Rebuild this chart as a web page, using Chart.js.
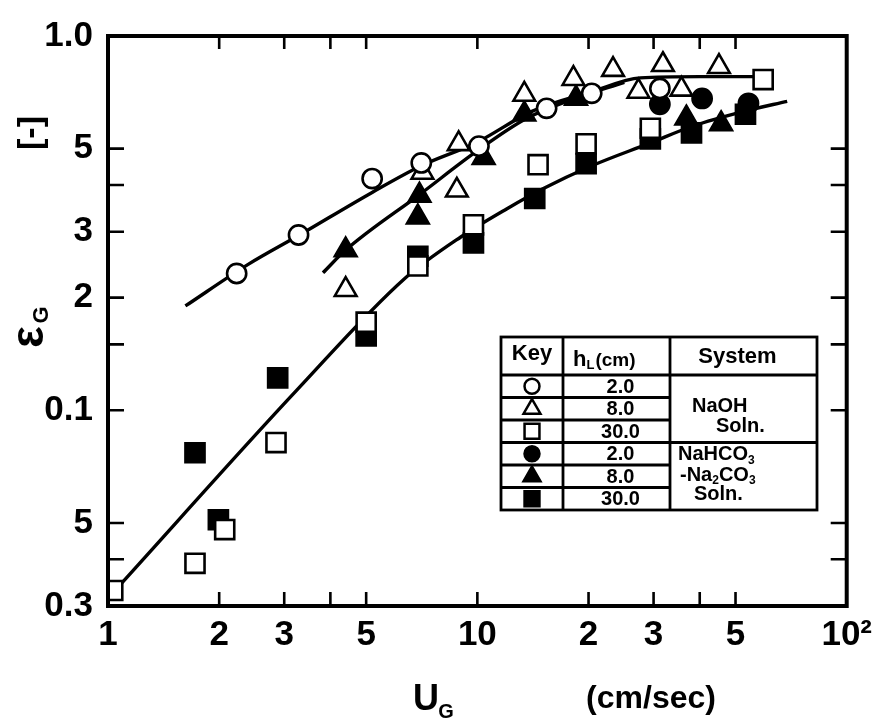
<!DOCTYPE html>
<html><head><meta charset="utf-8">
<script src="https://cdn.jsdelivr.net/npm/chart.js@4.4.1/dist/chart.umd.min.js"></script>
<style>html,body{margin:0;padding:0;background:#fff;} canvas{display:block;}</style>
</head><body>
<canvas id="c" width="880" height="725"></canvas>
<script>
// ---- tick values / labels ----
const xTickValues = [1, 2, 3, 4, 5, 10, 20, 30, 40, 50, 100];
const xTickLabels = ['1', '2', '3', '', '5', '10', '2', '3', '', '5', '10²'];
const yTickValues = [0.03, 0.04, 0.05, 0.1, 0.15, 0.2, 0.3, 0.4, 0.5, 1.0];
const yTickLabels = ['0.3', '', '5', '0.1', '', '2', '3', '', '5', '1.0'];

// ---- data: NaOH soln. ----
const naoh2X = [2.23, 3.28, 5.19, 7.05, 10.1, 15.4, 20.4, 31.2];
const naoh2Y = [0.232, 0.294, 0.416, 0.458, 0.508, 0.641, 0.703, 0.724];
const naoh8X = [4.4, 7.1, 8.8, 8.9, 13.4, 18.2, 23.3, 27.3, 31.8, 35.7, 45.1];
const naoh8Y = [0.21, 0.432, 0.387, 0.515, 0.698, 0.769, 0.813, 0.711, 0.838, 0.72, 0.828];
const naoh30X = [1.03, 1.72, 2.07, 2.85, 5.0, 6.9, 9.76, 14.6, 19.7, 29.4, 59.4];
const naoh30Y = [0.033, 0.039, 0.048, 0.082, 0.172, 0.243, 0.313, 0.453, 0.515, 0.567, 0.765];
// ---- data: NaHCO3 - Na2CO3 soln. ----
const carb2X = [31.2, 40.6, 54.2];
const carb2Y = [0.657, 0.681, 0.661];
const carb8X = [4.4, 6.9, 6.97, 10.4, 13.4, 18.5, 36.8, 45.7];
const carb8Y = [0.268, 0.328, 0.375, 0.473, 0.618, 0.681, 0.603, 0.582];
const carb30X = [1.72, 1.99, 2.88, 5.0, 6.9, 9.76, 14.3, 19.7, 29.4, 38, 53.2];
const carb30Y = [0.077, 0.051, 0.122, 0.158, 0.258, 0.28, 0.368, 0.456, 0.531, 0.551, 0.618];
// ---- fitted curves ----
const curve2X = [1.62, 2.39, 3.28, 5.19, 7.05, 9.9, 14.1, 20.4, 27.6, 40, 57];
const curve2Y = [0.19, 0.245, 0.293, 0.382, 0.45, 0.518, 0.63, 0.71, 0.773, 0.779, 0.779];
const curve8X = [3.82, 4.4, 7.05, 9.9, 13.5, 18.3, 25];
const curve8Y = [0.233, 0.268, 0.38, 0.49, 0.6, 0.68, 0.752];
const curve30X = [1.056, 3.24, 6.36, 9.0, 12, 15, 20.4, 29.4, 38.2, 53, 69];
const curve30Y = [0.0334, 0.113, 0.225, 0.29, 0.345, 0.39, 0.45, 0.518, 0.574, 0.63, 0.669];

// ---- legend table text ----
const keyHeights = ['2.0', '8.0', '30.0', '2.0', '8.0', '30.0'];

const FONT = "'Liberation Sans', Arial, sans-serif";
const pts = (xs, ys) => xs.map((x, i) => ({x: x, y: ys[i]}));

const markerStyles = [
  {style: 'circle', r: 9.6, fill: '#fff'},
  {style: 'triangle', r: 12.5, fill: '#fff'},
  {style: 'rect', r: 13.5, fill: '#fff'},
  {style: 'circle', r: 9.6, fill: '#000'},
  {style: 'triangle', r: 12.5, fill: '#000'},
  {style: 'rect', r: 13.5, fill: '#000'}
];
const seriesData = [
  pts(naoh2X, naoh2Y), pts(naoh8X, naoh8Y), pts(naoh30X, naoh30Y),
  pts(carb2X, carb2Y), pts(carb8X, carb8Y), pts(carb30X, carb30Y)
];
const seriesNames = ['NaOH 2.0', 'NaOH 8.0', 'NaOH 30.0', 'NaHCO3 2.0', 'NaHCO3 8.0', 'NaHCO3 30.0'];

const datasets = [];
seriesData.forEach((d, i) => {
  const m = markerStyles[i];
  datasets.push({
    label: seriesNames[i], data: d, order: 1, showLine: false,
    pointStyle: m.style, pointRadius: m.r, pointBackgroundColor: m.fill,
    pointBorderColor: '#000', pointBorderWidth: 2.6
  });
});
[[curve2X, curve2Y], [curve8X, curve8Y], [curve30X, curve30Y]].forEach((c, i) => {
  datasets.push({
    label: 'curve' + i, data: pts(c[0], c[1]), order: 2, showLine: true,
    borderColor: '#000', borderWidth: 3.4, pointRadius: 0,
    tension: 0.4, cubicInterpolationMode: 'monotone', fill: false
  });
});

const frame = {
  id: 'frame',
  afterDraw(chart) {
    const ctx = chart.ctx, a = chart.chartArea;
    const xs = chart.scales.x, ys = chart.scales.y;
    ctx.save();
    ctx.strokeStyle = '#000';
    ctx.lineWidth = 4;
    ctx.strokeRect(a.left, a.top, a.right - a.left, a.bottom - a.top);
    ctx.lineWidth = 2.6;
    xTickValues.forEach((v) => {
      if (v <= 1 || v >= 100) return;
      const p = xs.getPixelForValue(v);
      ctx.beginPath();
      ctx.moveTo(p, a.bottom); ctx.lineTo(p, a.bottom - 14);
      ctx.moveTo(p, a.top); ctx.lineTo(p, a.top + 13);
      ctx.stroke();
    });
    yTickValues.forEach((v) => {
      if (v <= 0.03 || v >= 1.0) return;
      const p = ys.getPixelForValue(v);
      ctx.beginPath();
      ctx.moveTo(a.left, p); ctx.lineTo(a.left + 16, p);
      ctx.moveTo(a.right, p); ctx.lineTo(a.right - 16, p);
      ctx.stroke();
    });

    // axis titles
    ctx.fillStyle = '#000';
    ctx.textAlign = 'center';
    ctx.textBaseline = 'middle';
    ctx.save();
    ctx.translate(30, 337);
    ctx.rotate(-Math.PI / 2);
    ctx.font = 'bold 46px ' + FONT;
    ctx.fillText('ε', 0, 0);
    ctx.font = 'bold 22px ' + FONT;
    ctx.fillText('G', 22, 12);
    ctx.restore();
    ctx.save();
    ctx.translate(32, 133);
    ctx.rotate(-Math.PI / 2);
    ctx.font = 'bold 34px ' + FONT;
    ctx.fillText('[-]', 0, 0);
    ctx.restore();
    ctx.textBaseline = 'alphabetic';
    ctx.font = 'bold 36px ' + FONT;
    ctx.fillText('U', 426, 710);
    ctx.font = 'bold 20px ' + FONT;
    ctx.fillText('G', 446, 718);
    ctx.font = 'bold 32px ' + FONT;
    ctx.fillText('(cm/sec)', 651, 708);
    ctx.restore();
  }
};

const table = {
  id: 'table',
  afterDraw(chart) {
    const ctx = chart.ctx;
    const L = 501, C1 = 563, C2 = 670, R = 817, T = 337, H = 375, rh = 22.5;
    const B = H + rh * 6;
    ctx.save();
    ctx.fillStyle = '#fff';
    ctx.fillRect(L, T, R - L, B - T);
    ctx.strokeStyle = '#000';
    ctx.lineWidth = 2.8;
    ctx.strokeRect(L, T, R - L, B - T);
    ctx.beginPath();
    ctx.moveTo(C1, T); ctx.lineTo(C1, B);
    ctx.moveTo(C2, T); ctx.lineTo(C2, B);
    ctx.moveTo(L, H); ctx.lineTo(R, H);
    ctx.moveTo(L, H + rh * 3); ctx.lineTo(R, H + rh * 3);
    [1, 2, 4, 5].forEach(k => { ctx.moveTo(L, H + rh * k); ctx.lineTo(C2, H + rh * k); });
    ctx.stroke();
    ctx.fillStyle = '#000';
    ctx.textBaseline = 'middle';
    ctx.textAlign = 'center';
    ctx.font = 'bold 22px ' + FONT;
    ctx.fillText('Key', (L + C1) / 2, T + 17);
    ctx.fillText('System', (C2 + R) / 2 - 6, T + 20);
    ctx.textAlign = 'left';
    ctx.fillText('h', C1 + 10, T + 23);
    const hw = ctx.measureText('h').width;
    ctx.font = 'bold 13px ' + FONT;
    ctx.fillText('L', C1 + 10 + hw, T + 28);
    const lw = ctx.measureText('L').width;
    ctx.font = 'bold 19px ' + FONT;
    ctx.fillText('(cm)', C1 + 10 + hw + lw + 1, T + 24);
    for (let k = 0; k < 6; k++) {
      const cy = H + rh * k + rh / 2;
      const m = markerStyles[k];
      ctx.fillStyle = m.fill; ctx.strokeStyle = '#000'; ctx.lineWidth = 2.5;
      Chart.helpers.drawPoint(ctx, {pointStyle: m.style, radius: m.r * 0.78, borderWidth: 2.5, rotation: 0}, (L + C1) / 2, cy);
      ctx.fillStyle = '#000';
      ctx.textAlign = 'center';
      ctx.font = 'bold 20px ' + FONT;
      ctx.fillText(keyHeights[k], (C1 + C2) / 2 + 4, cy + 1);
    }
    ctx.textAlign = 'left';
    ctx.font = 'bold 20px ' + FONT;
    ctx.fillText('NaOH', C2 + 22, H + rh * 1.4);
    ctx.fillText('Soln.', C2 + 46, H + rh * 2.3);
    let x0 = C2 + 8, y0 = H + rh * 3.55;
    ctx.fillText('NaHCO', x0, y0);
    let w = ctx.measureText('NaHCO').width;
    ctx.font = 'bold 12px ' + FONT;
    ctx.fillText('3', x0 + w, y0 + 6);
    ctx.font = 'bold 20px ' + FONT;
    x0 = C2 + 10; y0 = H + rh * 4.45;
    ctx.fillText('-Na', x0, y0);
    w = ctx.measureText('-Na').width;
    ctx.font = 'bold 12px ' + FONT;
    ctx.fillText('2', x0 + w, y0 + 6);
    const w2 = ctx.measureText('2').width;
    ctx.font = 'bold 20px ' + FONT;
    ctx.fillText('CO', x0 + w + w2, y0);
    const w3 = ctx.measureText('CO').width;
    ctx.font = 'bold 12px ' + FONT;
    ctx.fillText('3', x0 + w + w2 + w3, y0 + 6);
    ctx.font = 'bold 20px ' + FONT;
    ctx.fillText('Soln.', C2 + 24, H + rh * 5.3);
    ctx.restore();
  }
};

new Chart(document.getElementById('c'), {
  type: 'scatter',
  data: {datasets: datasets},
  options: {
    responsive: false,
    animation: false,
    devicePixelRatio: 1,
    layout: {padding: {left: 0, right: 20, top: 28, bottom: 0}},
    plugins: {legend: {display: false}, tooltip: {enabled: false}},
    scales: {
      x: {
        type: 'logarithmic', min: 1, max: 100, position: 'bottom',
        afterBuildTicks: s => { s.ticks = xTickValues.map(v => ({value: v})); },
        afterFit: s => { s.height = 119; },
        grid: {display: false, drawTicks: false},
        border: {display: false},
        ticks: {
          autoSkip: false, maxRotation: 0, padding: 8, color: '#000',
          font: {family: FONT, size: 35, weight: 'bold'},
          callback: (v) => { const i = xTickValues.indexOf(v); return i >= 0 ? xTickLabels[i] : ''; }
        }
      },
      y: {
        type: 'logarithmic', min: 0.03, max: 1.0, position: 'left',
        afterBuildTicks: s => { s.ticks = yTickValues.map(v => ({value: v})); },
        afterFit: s => { s.width = 108; },
        grid: {display: false, drawTicks: false},
        border: {display: false},
        ticks: {
          autoSkip: false, padding: 15, color: '#000',
          font: {family: FONT, size: 35, weight: 'bold'},
          callback: (v) => { const i = yTickValues.indexOf(v); return i >= 0 ? yTickLabels[i] : ''; }
        }
      }
    }
  },
  plugins: [frame, table]
});
</script>
</body></html>
